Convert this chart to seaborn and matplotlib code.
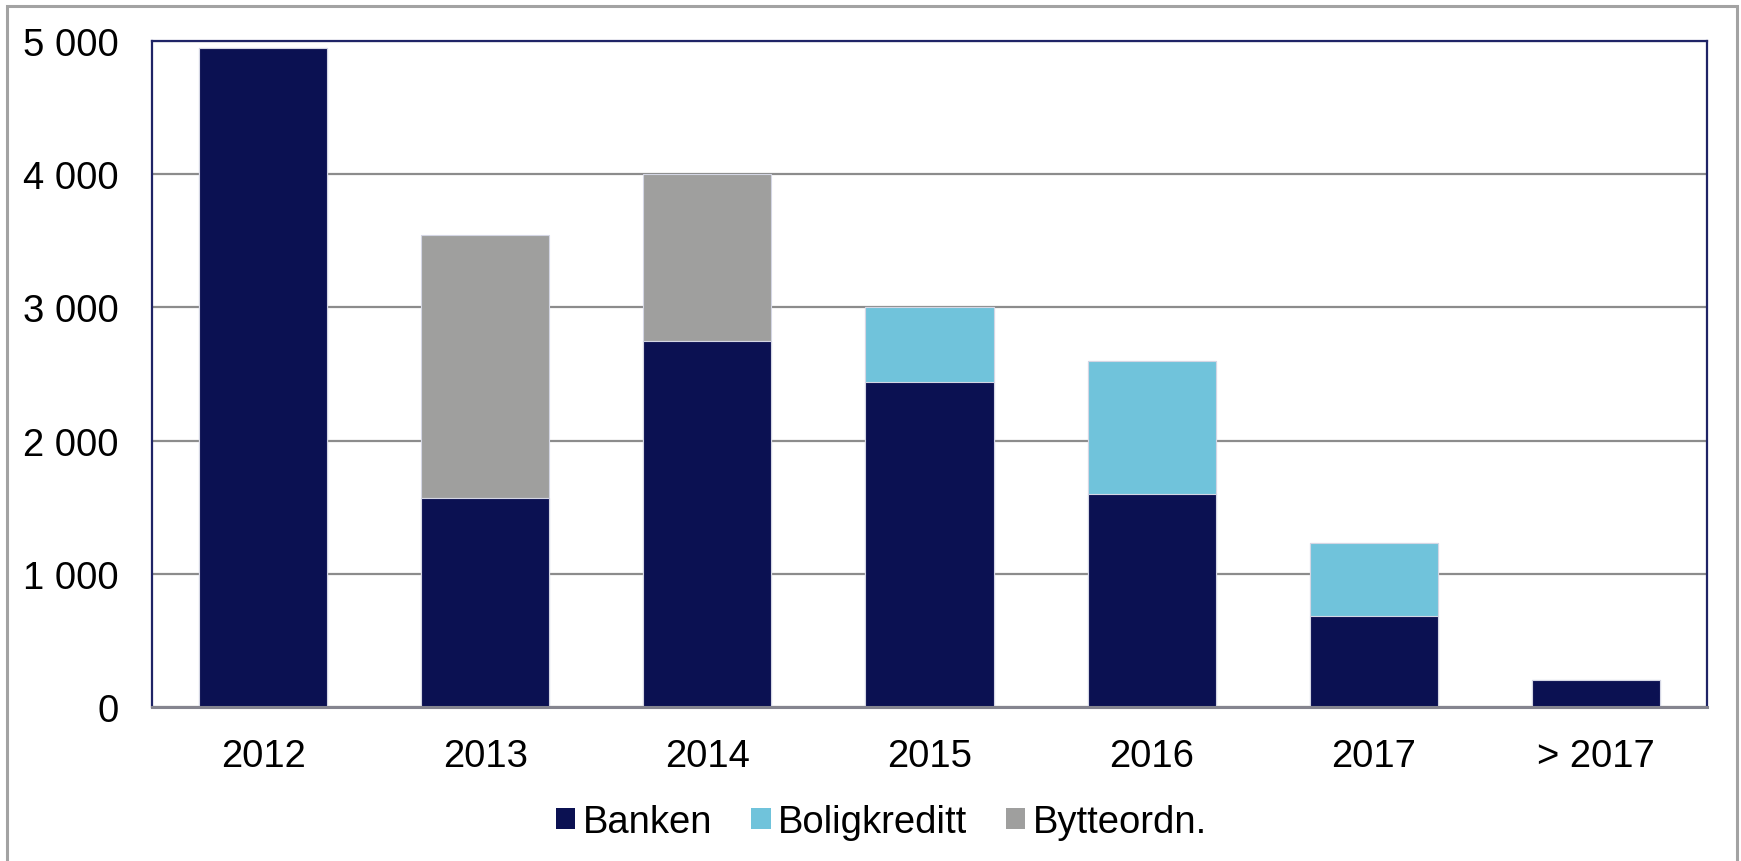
import matplotlib
matplotlib.use("Agg")
import matplotlib.pyplot as plt
from matplotlib.patches import Patch, Rectangle
import seaborn as sns
import pandas as pd
import numpy as np

categories = ["2012", "2013", "2014", "2015", "2016", "2017", "> 2017"]
banken = [4950, 1570, 2750, 2440, 1600, 680, 200]
boligkreditt = [0, 0, 0, 560, 1000, 550, 0]
bytteordn = [0, 1970, 1250, 0, 0, 0, 0]
series_names = ["Banken", "Boligkreditt", "Bytteordn."]
colors = ["#0B1152", "#70C3DB", "#9F9F9E"]
yticks = [0, 1000, 2000, 3000, 4000, 5000]
ytick_labels = ["0", "1 000", "2 000", "3 000", "4 000", "5 000"]

sns.set_theme(style="white")
plt.rcParams["font.family"] = ["Liberation Sans", "DejaVu Sans"]
plt.rcParams["text.color"] = "black"

df = pd.DataFrame({"cat": categories, "Banken": banken,
                   "Boligkreditt": boligkreditt, "Bytteordn.": bytteordn})
df["lvl1"] = df["Banken"]
df["lvl2"] = df["Banken"] + df["Boligkreditt"]
df["lvl3"] = df["lvl2"] + df["Bytteordn."]

fig = plt.figure(figsize=(17.41, 8.62), dpi=100)
ax = fig.add_axes([152/1741, 1-708/862, (1707-152)/1741, (708-42)/862])

ax.set_axisbelow(True)
ax.yaxis.grid(True, color="#8C8C8C", linewidth=1.6)
ax.xaxis.grid(False)

for lvl, col in zip(["lvl3", "lvl2", "lvl1"], [colors[2], colors[1], colors[0]]):
    sns.barplot(data=df, x="cat", y=lvl, order=categories, color=col,
                width=0.577, edgecolor="#D4D6E4", linewidth=0.8,
                saturation=1, errorbar=None, ax=ax)

ax.set_xlim(-0.5, len(categories) - 0.5)
ax.set_ylim(0, 5000)
ax.set_yticks(yticks)
ax.set_yticklabels(ytick_labels)
ax.set_xlabel("")
ax.set_ylabel("")
ax.tick_params(axis="y", length=0, pad=24, labelsize=27.5, colors="black")
ax.tick_params(axis="x", length=0, pad=22, labelsize=27.5, colors="black")

for s in ["top", "right", "left"]:
    ax.spines[s].set_color("#1F2466")
    ax.spines[s].set_linewidth(1.6)
    ax.spines[s].set_visible(True)
ax.spines["bottom"].set_color("#85858F")
ax.spines["bottom"].set_linewidth(2.2)
ax.spines["bottom"].set_visible(True)

handles = [Patch(facecolor=c, edgecolor="none") for c in colors]
fig.legend(handles, series_names, loc="center", bbox_to_anchor=(0.5065, 1-823/862),
           ncol=3, frameon=False, fontsize=27.5, handlelength=0.5, handleheight=0.5,
           handletextpad=0.2, columnspacing=1.02, labelcolor="black")

border = Rectangle((7/1741, -0.05), (1737-7)/1741, (1 - 7/862) + 0.05,
                   transform=fig.transFigure, fill=False, edgecolor="#A3A3A3",
                   linewidth=2.2, clip_on=False)
fig.patches.append(border)

fig.savefig("out.png", dpi=100, facecolor="white")
